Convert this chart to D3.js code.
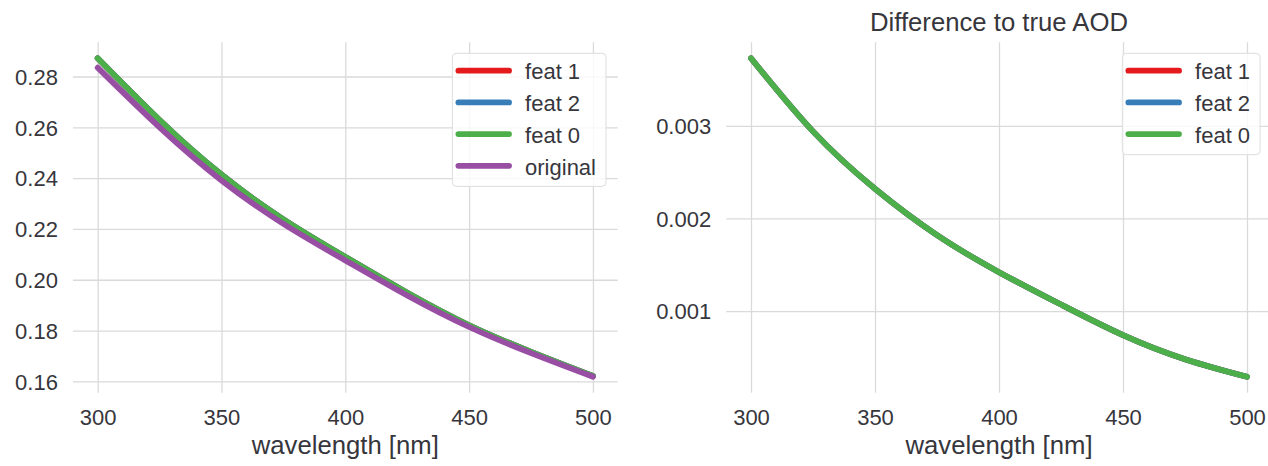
<!DOCTYPE html>
<html>
<head>
<meta charset="utf-8">
<script src="https://cdn.jsdelivr.net/npm/d3@7"></script>
<style>
  body { margin: 0; background: #fff; }
  svg text { font-family: "Liberation Sans", Arial, Helvetica, sans-serif; fill: #36363c; }
</style>
</head>
<body>
<svg id="chart" width="1268" height="466"></svg>
<script>
// Wavelength grid (nm)
const wavelengths = [300, 325, 350, 375, 400, 425, 450, 475, 500];

// Aerosol optical depth reconstructed from each feature, and the original
const aodFeat1 = [0.2872, 0.2629, 0.2414, 0.2238, 0.2090, 0.1949, 0.1821, 0.1716, 0.1621];
const aodFeat2 = [0.2872, 0.2629, 0.2414, 0.2238, 0.2090, 0.1949, 0.1821, 0.1716, 0.1621];
const aodFeat0 = [0.2872, 0.2629, 0.2414, 0.2238, 0.2090, 0.1949, 0.1821, 0.1716, 0.1621];
const aodOriginal = [0.2835, 0.2600, 0.2391, 0.2220, 0.2076, 0.1938, 0.1814, 0.1711, 0.1618];

// Difference to the true AOD
const diffFeat1 = [0.00373, 0.00294, 0.00232, 0.00182, 0.00142, 0.00107, 0.00074, 0.00048, 0.00029];
const diffFeat2 = [0.00373, 0.00294, 0.00232, 0.00182, 0.00142, 0.00107, 0.00074, 0.00048, 0.00029];
const diffFeat0 = [0.00373, 0.00294, 0.00232, 0.00182, 0.00142, 0.00107, 0.00074, 0.00048, 0.00029];

// Tick values
const xTicks = [300, 350, 400, 450, 500];
const aodTicks = [0.16, 0.18, 0.20, 0.22, 0.24, 0.26, 0.28];
const diffTicks = [0.001, 0.002, 0.003];

const colors = { "feat 1": "#e41a1c", "feat 2": "#377eb8", "feat 0": "#4daf4a", "original": "#984ea3" };

const svg = d3.select("#chart");
svg.append("rect").attr("width", 1268).attr("height", 466).attr("fill", "#fff");

function drawPanel(cfg) {
  const { x0, x1, y0, y1, series, yTicks, yFormat, title } = cfg;
  const g = svg.append("g");

  // 5% autoscale margins around the data
  const xExt = d3.extent(wavelengths);
  const xPad = (xExt[1] - xExt[0]) * 0.05;
  const allY = series.flatMap(s => s.values);
  const yExt = d3.extent(allY);
  const yPad = (yExt[1] - yExt[0]) * 0.05;

  const x = d3.scaleLinear().domain([xExt[0] - xPad, xExt[1] + xPad]).range([x0, x1]);
  const y = d3.scaleLinear().domain([yExt[0] - yPad, yExt[1] + yPad]).range([y1, y0]);

  // vertical grid + x tick labels
  const xAxis = g.append("g")
    .attr("transform", `translate(0,${y1})`)
    .call(d3.axisBottom(x).tickValues(xTicks).tickFormat(d3.format("d"))
      .tickSizeInner(-(y1 - y0)).tickSizeOuter(0).tickPadding(17));
  // horizontal grid + y tick labels
  const yAxis = g.append("g")
    .attr("transform", `translate(${x0},0)`)
    .call(d3.axisLeft(y).tickValues(yTicks).tickFormat(d3.format(yFormat))
      .tickSizeInner(-(x1 - x0)).tickSizeOuter(0).tickPadding(15));

  [xAxis, yAxis].forEach(a => {
    a.select(".domain").remove();
    a.selectAll(".tick line").attr("stroke", "#dadada").attr("stroke-width", 1.3);
    a.selectAll(".tick text").attr("font-size", 22).attr("fill", "#36363c")
      .style("font-family", '"Liberation Sans", Arial, sans-serif');
  });
  yAxis.selectAll(".tick text").attr("dy", "0.35em");

  // x label
  g.append("text")
    .attr("x", (x0 + x1) / 2)
    .attr("y", 454)
    .attr("text-anchor", "middle")
    .attr("font-size", 25.7)
    .text("wavelength [nm]");

  if (title) {
    g.append("text")
      .attr("x", (x0 + x1) / 2)
      .attr("y", 30.5)
      .attr("text-anchor", "middle")
      .attr("font-size", 25.7)
      .text(title);
  }

  // series lines
  const line = d3.line()
    .x((d, i) => x(wavelengths[i]))
    .y(d => y(d))
    .curve(d3.curveNatural);

  series.forEach(s => {
    g.append("path")
      .datum(s.values)
      .attr("d", line)
      .attr("fill", "none")
      .attr("stroke", colors[s.name])
      .attr("stroke-width", 5.7)
      .attr("stroke-linecap", "round")
      .attr("stroke-linejoin", "round");
  });

  // legend (upper right)
  const lg = g.append("g");
  const rowGap = 31.7;
  const textOffset = 72.7;
  const labels = lg.selectAll("text.lab")
    .data(series)
    .join("text")
    .attr("class", "lab")
    .attr("font-size", 22)
    .attr("dy", "0.35em")
    .text(d => d.name);
  let maxW = 0;
  labels.each(function () { maxW = Math.max(maxW, this.getComputedTextLength()); });
  const boxW = textOffset + maxW + 10;
  const boxH = 17 + (series.length - 1) * rowGap + 21;
  const bx = x1 - 11.7 - boxW;
  const by = y0 + 11;

  lg.insert("rect", ":first-child")
    .attr("x", bx).attr("y", by)
    .attr("width", boxW).attr("height", boxH)
    .attr("rx", 4).attr("ry", 4)
    .attr("fill", "rgba(255,255,255,0.8)")
    .attr("stroke", "#dddddd")
    .attr("stroke-width", 1);

  labels
    .attr("x", bx + textOffset)
    .attr("y", (d, i) => by + 17.4 + i * rowGap + 1);

  lg.selectAll("line.handle")
    .data(series)
    .join("line")
    .attr("class", "handle")
    .attr("x1", bx + 6).attr("x2", bx + 56.7)
    .attr("y1", (d, i) => by + 17.4 + i * rowGap)
    .attr("y2", (d, i) => by + 17.4 + i * rowGap)
    .attr("stroke", d => colors[d.name])
    .attr("stroke-width", 5.7)
    .attr("stroke-linecap", "round");
}

drawPanel({
  x0: 72.9, x1: 617.7, y0: 42.3, y1: 392.7,
  series: [
    { name: "feat 1", values: aodFeat1 },
    { name: "feat 2", values: aodFeat2 },
    { name: "feat 0", values: aodFeat0 },
    { name: "original", values: aodOriginal }
  ],
  yTicks: aodTicks, yFormat: ".2f", title: null
});

drawPanel({
  x0: 726.2, x1: 1271.8, y0: 42.3, y1: 392.7,
  series: [
    { name: "feat 1", values: diffFeat1 },
    { name: "feat 2", values: diffFeat2 },
    { name: "feat 0", values: diffFeat0 }
  ],
  yTicks: diffTicks, yFormat: ".3f", title: "Difference to true AOD"
});
</script>
</body>
</html>
